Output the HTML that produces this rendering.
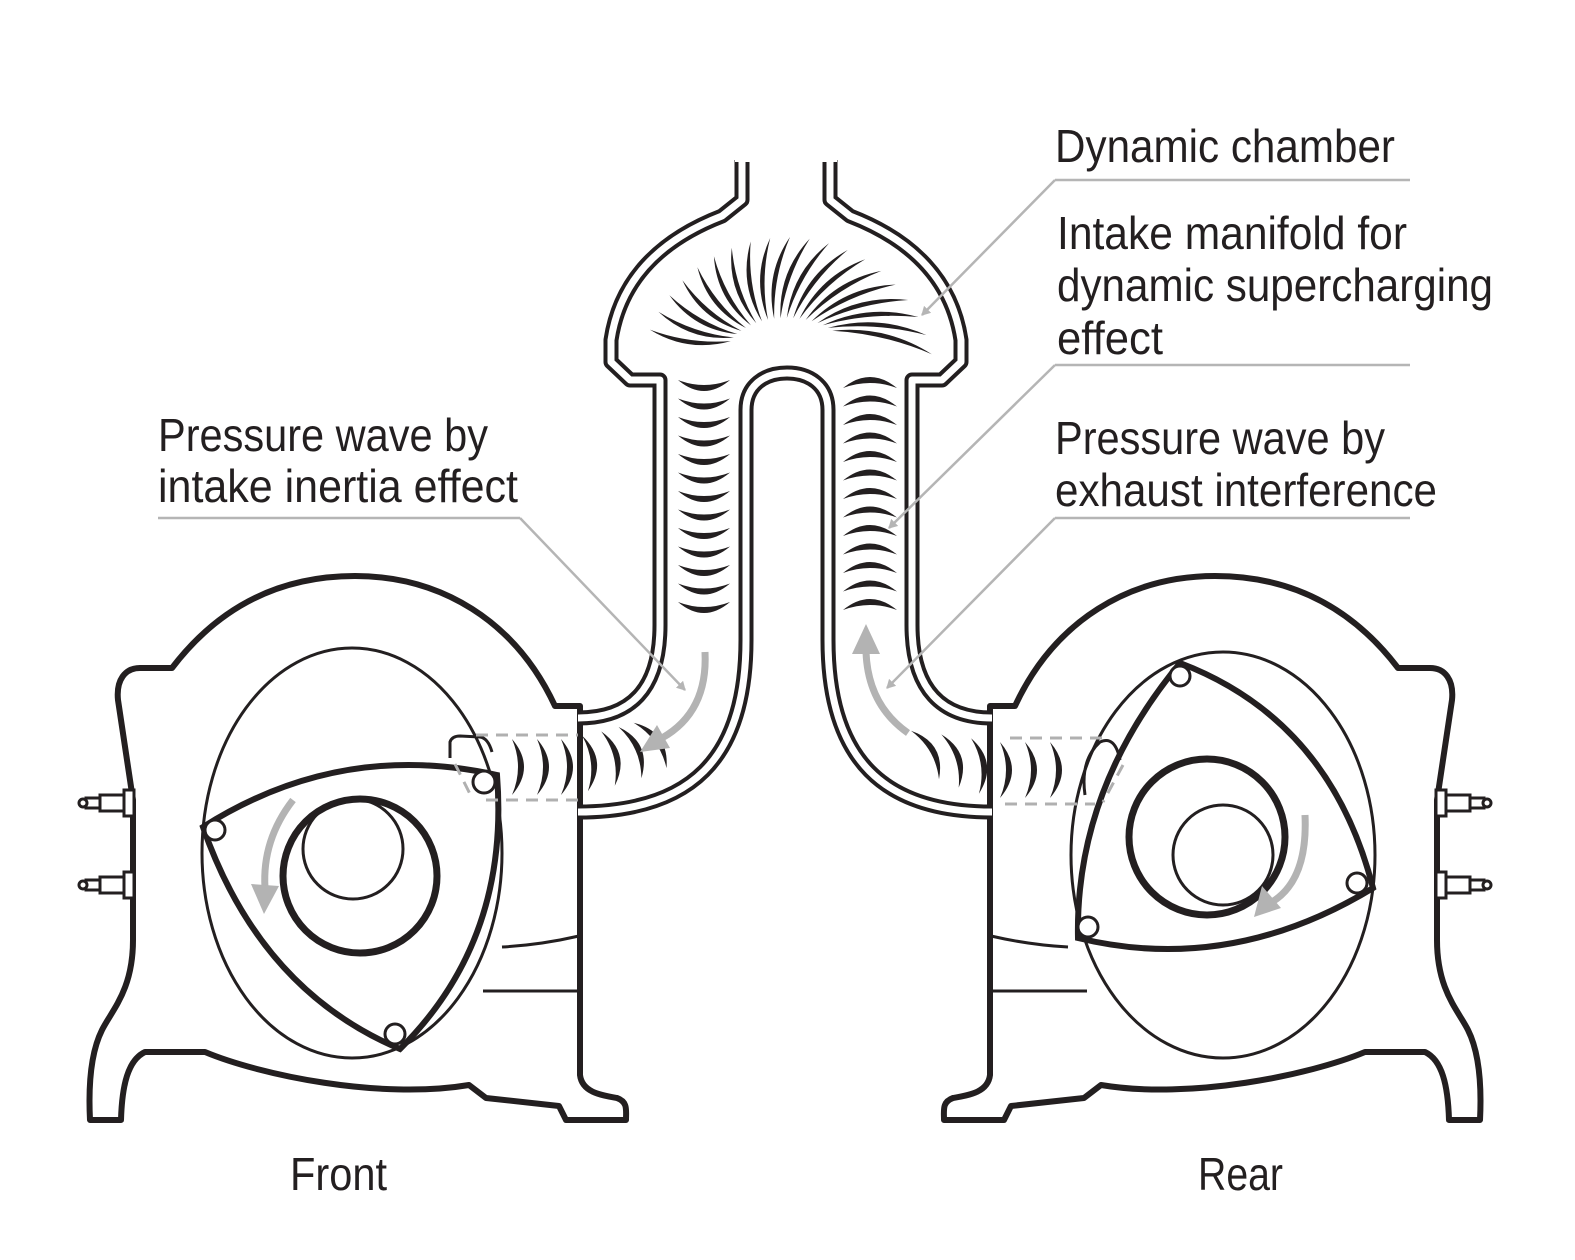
<!DOCTYPE html>
<html><head><meta charset="utf-8"><style>
html,body{margin:0;padding:0;background:#fff}
svg{display:block}
text{font-family:"Liberation Sans Narrow","Liberation Sans",sans-serif;font-size:46px;fill:#231f20}
</style></head><body>
<svg id="s" width="1575" height="1260" viewBox="0 0 1575 1260" xmlns="http://www.w3.org/2000/svg">
<defs>
<marker id="ah" markerWidth="10" markerHeight="10" refX="8" refY="5" orient="auto" markerUnits="userSpaceOnUse"><path d="M0,0 L26,5 L0,10 z" fill="#b5b5b5" transform="scale(0.35,1)"/></marker>
<g id="housing">
<path d="M172,668 C230,592 300,576 355,576 C440,576 515,620 555,706 L580,706 L580,1075 C582,1092 600,1095 617,1098 C628,1102 626,1110 626,1120 L566,1120 L559,1106 L486,1098 L469,1085 C380,1100 260,1075 205,1052 L145,1052 C128,1060 122,1085 121,1120 L90,1120 C88,1080 92,1050 102,1030 C112,1010 133,990 133,940 L133,800 L118,700 C116,680 125,668 140,668 Z" fill="#fff" stroke="#231f20" stroke-width="6" stroke-linejoin="round"/>
<path d="M502,947 Q540,945 579,936 M483,991 L579,991" fill="none" stroke="#231f20" stroke-width="3"/>
<g fill="#fff" stroke="#231f20" stroke-width="3">
<rect x="124" y="790" width="10" height="26"/><rect x="100" y="795" width="24" height="16"/><rect x="86" y="798" width="14" height="10"/><circle cx="83" cy="803" r="4"/>
<rect x="124" y="872" width="10" height="26"/><rect x="100" y="877" width="24" height="16"/><rect x="86" y="880" width="14" height="10"/><circle cx="83" cy="885" r="4"/>
</g>
</g>
</defs>

<use href="#housing"/>
<use href="#housing" transform="translate(1570,0) scale(-1,1)"/>

<g fill="none" stroke="#231f20">
<ellipse cx="352" cy="853" rx="150" ry="205" stroke-width="3"/>
<ellipse cx="1223" cy="855" rx="152" ry="203" stroke-width="3"/>
<path d="M203,827 Q340,740 497,775 Q510,940 400,1049 Q260,990 203,827 Z" stroke-width="6" fill="#fff"/>
<path d="M1180,663 Q1330,720 1373,888 Q1230,975 1078,938 Q1075,790 1180,663 Z" stroke-width="6" fill="#fff"/>
<circle cx="360" cy="876" r="77" stroke-width="7"/>
<circle cx="353" cy="849" r="50" stroke-width="3"/>
<circle cx="1207" cy="837" r="78" stroke-width="7"/>
<circle cx="1223" cy="855" r="50" stroke-width="3"/>
<g fill="#fff" stroke-width="3">
<circle cx="215" cy="830" r="10"/><circle cx="395" cy="1034" r="10"/><circle cx="484" cy="782" r="11"/>
<circle cx="1180" cy="676" r="10"/><circle cx="1357" cy="883" r="10"/><circle cx="1088" cy="927" r="10"/>
</g>
<path d="M450,758 L450,742 Q452,736 460,736 L480,737 Q488,738 492,752" stroke-width="3"/>
<path d="M1085,795 Q1080,760 1100,742 Q1115,735 1120,760" stroke-width="3"/>
</g>
<g stroke="#b0b0b0" stroke-width="3" stroke-dasharray="12,8" fill="none">
<path d="M476,735 L578,735 M486,800 L578,800 M455,764 L472,798"/>
<path d="M1010,738 L1110,738 M1005,804 L1095,804 M1123,765 L1103,802"/>
</g>

<g fill="none" stroke-linejoin="round">
<g stroke="#231f20" stroke-width="15">
<path d="M742,160 L742,200 L722,216 C660,240 620,280 611,340 L611,362 L630,380 L660,380 L660,625 C660,690 630,718 578,718"/>
<path d="M830,160 L830,200 L850,216 C912,240 952,280 961,340 L961,362 L942,380 L912,380 L912,625 C912,690 942,718 992,718"/>
<path d="M578,812 C690,812 746,760 746,640 L746,410 C746,385 765,373 787,373 C809,373 828,385 828,410 L828,640 C828,760 884,812 992,812"/>
</g>
<g stroke="#fff" stroke-width="7">
<path d="M742,160 L742,200 L722,216 C660,240 620,280 611,340 L611,362 L630,380 L660,380 L660,625 C660,690 630,718 578,718"/>
<path d="M830,160 L830,200 L850,216 C912,240 952,280 961,340 L961,362 L942,380 L912,380 L912,625 C912,690 942,718 992,718"/>
<path d="M578,812 C690,812 746,760 746,640 L746,410 C746,385 765,373 787,373 C809,373 828,385 828,410 L828,640 C828,760 884,812 992,812"/>
</g>
</g>
<rect x="735" y="150" width="102" height="12" fill="#fff"/>

<g id="cres" fill="#231f20"></g>

<g stroke="#b3b3b3" stroke-width="7" fill="none">
<path d="M293,800 Q262,840 265,888"/>
<path d="M1305,815 Q1308,880 1272,902"/>
<path d="M705,652 Q708,712 662,738"/>
<path d="M908,733 Q868,705 866,652"/>
</g>
<g fill="#b3b3b3">
<polygon points="251,884 279,886 264,914"/>
<polygon points="1262,886 1281,908 1254,917"/>
<polygon points="657,725 670,748 640,752"/>
<polygon points="852,654 880,654 866,624"/>
</g>

<g stroke="#b5b5b5" stroke-width="2.5" fill="none">
<path d="M1055,180 L1410,180 M1055,365 L1410,365 M1055,518 L1410,518 M158,518 L520,518"/>
<path d="M1055,180 L922,315" marker-end="url(#ah)"/>
<path d="M1055,365 L889,528" marker-end="url(#ah)"/>
<path d="M1055,518 L887,688" marker-end="url(#ah)"/>
<path d="M520,518 L685,690" marker-end="url(#ah)"/>
</g>

<text x="1055" y="162" textLength="340" lengthAdjust="spacingAndGlyphs">Dynamic chamber</text>
<text x="1057" y="249" textLength="350" lengthAdjust="spacingAndGlyphs">Intake manifold for</text>
<text x="1057" y="301" textLength="436" lengthAdjust="spacingAndGlyphs">dynamic supercharging</text>
<text x="1057" y="354" textLength="106" lengthAdjust="spacingAndGlyphs">effect</text>
<text x="1055" y="454" textLength="330" lengthAdjust="spacingAndGlyphs">Pressure wave by</text>
<text x="1055" y="506" textLength="382" lengthAdjust="spacingAndGlyphs">exhaust interference</text>
<text x="158" y="451" textLength="330" lengthAdjust="spacingAndGlyphs">Pressure wave by</text>
<text x="158" y="502" textLength="360" lengthAdjust="spacingAndGlyphs">intake inertia effect</text>
<text x="290" y="1190" textLength="97" lengthAdjust="spacingAndGlyphs">Front</text>
<text x="1198" y="1190" textLength="85" lengthAdjust="spacingAndGlyphs">Rear</text>
</svg>
<script>
(function(){
var g=document.getElementById('cres'),out='';
function cr(x0,y0,x1,y1,b,t){
 var dx=x1-x0,dy=y1-y0,L=Math.hypot(dx,dy),nx=-dy/L,ny=dx/L,mx=(x0+x1)/2,my=(y0+y1)/2;
 var s=Math.sign(b);
 var c1x=mx+nx*2*b,c1y=my+ny*2*b,c2x=mx+nx*2*(b-t*s),c2y=my+ny*2*(b-t*s);
 out+='<path d="M'+x0.toFixed(1)+','+y0.toFixed(1)+' Q'+c1x.toFixed(1)+','+c1y.toFixed(1)+' '+x1.toFixed(1)+','+y1.toFixed(1)+' Q'+c2x.toFixed(1)+','+c2y.toFixed(1)+' '+x0.toFixed(1)+','+y0.toFixed(1)+'Z"/>';
}
var cx=787,cy=393,r=Math.PI/180;
for(var i=0;i<20;i++){var f=i/19,a1=(155-f*112)*r,a2=(158-f*146)*r;
 var x0=cx+62*Math.cos(a1),y0=cy-35-40*Math.sin(a1);
 var x1=cx+148*Math.cos(a2),y1=cy-148*Math.sin(a2)-8;
 cr(x1,y1,x0,y0,9,4.5);}
for(var k=0;k<13;k++){var y=380+k*18.5;cr(730,y,678,y,-11,6);}
for(var k=0;k<13;k++){var y=378+k*18.5;cr(843,y+10,897,y+10,-11,6);}
var L=[[512,0],[537,0],[561,0],[585,-6],[608,-14],[630,-24],[650,-36]];
L.forEach(function(p){var x=p[0],a=p[1]*r,h=28,mx=x,my=767+p[1]*0.6;
 cr(mx+h*Math.sin(a),my-h*Math.cos(a),mx-h*Math.sin(a),my+h*Math.cos(a),-12,6);});
var R=[[925,-30],[950,-18],[975,-8],[1000,0],[1025,0],[1050,0]];
R.forEach(function(p){var x=p[0],a=p[1]*r,h=28,mx=x,my=770+p[1]*0.5;
 cr(mx+h*Math.sin(a),my-h*Math.cos(a),mx-h*Math.sin(a),my+h*Math.cos(a),-12,6);});
g.innerHTML=out;
})();
</script>
</body></html>
